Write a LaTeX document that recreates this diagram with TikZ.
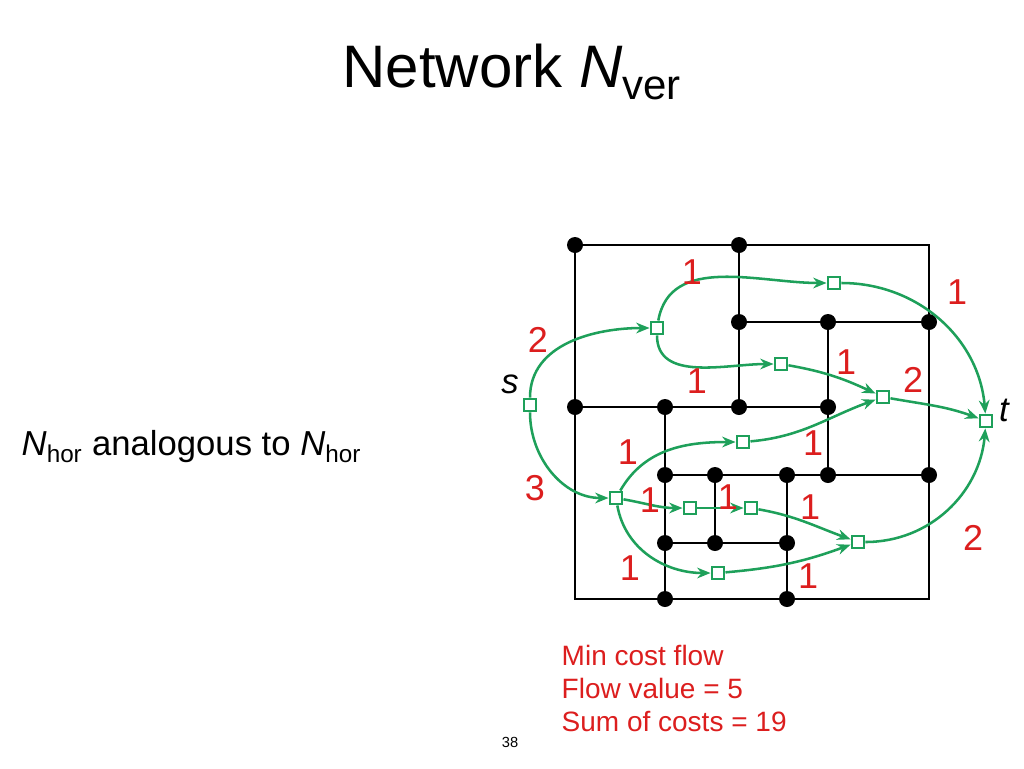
\documentclass[tikz,border=0pt]{standalone}
\usepackage{fontspec}
\setmainfont{Liberation Sans}
\usetikzlibrary{arrows.meta}
\definecolor{gr}{RGB}{30,160,90}
\definecolor{rd}{RGB}{220,30,30}
\begin{document}
\begin{tikzpicture}[x=0.75pt,y=-0.75pt,
 dot/.style={circle,fill=black,inner sep=0pt,minimum size=12pt},
 sq/.style={draw=gr,line width=2.2pt,fill=white,inner sep=0pt,minimum size=9pt},
 fl/.style={draw=gr,line width=1.9pt,-{Stealth[length=10pt,width=8pt]}},
 lb/.style={text=rd,font=\fontsize{27}{27}\selectfont},
 ln/.style={line width=2pt}]
\useasboundingbox (0,0) rectangle (1024,768);
\node[font=\fontsize{45}{45}\selectfont] (title) at (512,72) {Network \textit{N}\textsubscript{ver}};
\node[anchor=west,font=\fontsize{26}{26}\selectfont] (left) at (17,447) {\textit{N}\textsubscript{hor} analogous to \textit{N}\textsubscript{hor}};
\node[anchor=north west,align=left,text=rd,font=\fontsize{21}{25}\selectfont] (info) at (557,640) {Min cost flow\\Flow value = 5\\Sum of costs = 19};
\node[font=\fontsize{11}{11}\selectfont] (pg) at (510,742) {38};
% black grid
\draw[ln] (575,245) rectangle (929,599);
\draw[ln] (739,245)--(739,407) (739,322)--(929,322) (828,322)--(828,475)
 (575,407)--(828,407) (665,407)--(665,599) (665,475)--(929,475)
 (715,475)--(715,543) (787,475)--(787,599) (665,543)--(787,543);
\foreach \p in {(575,245),(739,245),(739,322),(828,322),(929,322),(575,407),(665,407),(739,407),(828,407),(665,475),(715,475),(787,475),(828,475),(929,475),(665,543),(715,543),(787,543),(665,599),(787,599)}
 \node[dot] at \p {};
% green nodes
\node[sq] (s) at (530,405) {};
\node[sq] (a) at (657,328) {};
\node[sq] (b) at (834,283) {};
\node[sq] (c) at (781,364) {};
\node[sq] (d) at (883,397) {};
\node[sq] (t) at (986,421) {};
\node[sq] (e) at (616,498) {};
\node[sq] (f) at (743,442) {};
\node[sq] (g) at (690,508) {};
\node[sq] (h) at (751,508) {};
\node[sq] (i) at (858,542) {};
\node[sq] (j) at (718,573) {};
\node[font=\fontsize{26}{26}\selectfont\itshape] (sl) at (510,384) {s};
\node[font=\fontsize{26}{26}\selectfont\itshape] (tl) at (1004,410) {t};
% flows
\draw[fl] (s) to[out=90,in=180] (a);
\draw[fl] (s) to[out=-90,in=180] (e);
\draw[fl] (a) to[out=80,in=180] (b);
\draw[fl] (a) to[out=-90,in=180] (c);
\draw[fl] (b) to[out=0,in=95] (t);
\draw[fl] (c) to[out=-10,in=155] (d);
\draw[fl] (d) to[out=-10,in=160] (t);
\draw[fl] (e) to[out=60,in=180] (f);
\draw[fl] (f) to[out=5,in=200] (d);
\draw[fl] (e) to[out=-10,in=180] (g);
\draw[fl] (g) -- (h);
\draw[fl] (h) to[out=-10,in=160] (i);
\draw[fl] (e) to[out=-80,in=180] (j);
\draw[fl] (j) to[out=5,in=200] (i);
\draw[fl] (i) to[out=0,in=-95] (t);
% labels
\foreach \x/\y/\t in {538/340/2,535/488/3,692/272/1,697/381/1,957/292/1,846/362/1,913/380/2,628/452/1,813/443/1,650/500/1,728/497/1,810/507/1,630/568/1,808/576/1,973/538/2}
 \node[lb] at (\x,\y) {\t};
\end{tikzpicture}
\end{document}
